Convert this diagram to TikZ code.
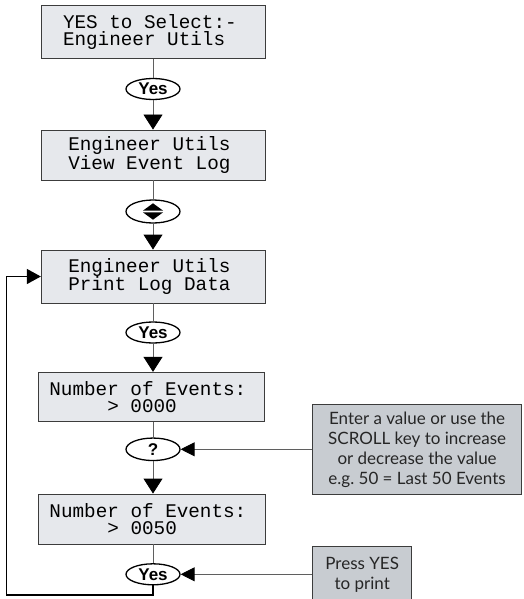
\documentclass[tikz,border=0pt]{standalone}
\usepackage{fontspec}
\setmainfont{Lato}
\newfontfamily\lcdfont{Liberation Mono}
\newfontfamily\ovalfont{Liberation Sans}
\usetikzlibrary{arrows.meta,shapes.geometric}
\definecolor{lcdfill}{RGB}{230,232,236}
\definecolor{notefill}{RGB}{200,204,209}
\definecolor{edgecol}{RGB}{60,60,60}
\definecolor{conncol}{RGB}{95,95,95}
\newcommand\lcdsetup{\lcdfont\fontsize{19.3}{17.5}\selectfont}
\begin{document}
\begin{tikzpicture}[x=1pt,y=-1pt,
  lcd/.style={draw=edgecol, line width=0.9pt, fill=lcdfill, text=black,
    font=\lcdsetup, align=flush left, inner ysep=0pt},
  oval/.style={ellipse, draw=black, line width=1.3pt, fill=white, inner sep=0pt,
    minimum width=54pt, minimum height=21pt,
    font=\ovalfont\bfseries\fontsize{17}{17}\selectfont},
  note/.style={draw=edgecol, line width=0.9pt, fill=notefill, align=center,
    inner sep=0pt, text=black!85, font=\fontsize{17}{20}\selectfont},
  conn/.style={draw=conncol, line width=0.9pt},
  vtip/.style={-{Triangle[length=15pt,width=19pt,color=black]}},
  htip/.style={-{Triangle[length=14pt,width=14pt,color=black]}}
]
\useasboundingbox (0,0) rectangle (523,599);

% LCD boxes
\node[lcd, inner xsep=21.7pt, text width=181pt, minimum height=53.7pt] (B1) at (153.5,31.9)
  {YES to Select:-\\Engineer Utils};
\node[lcd, inner xsep=27pt, text width=170.4pt, minimum height=50pt] (B2) at (153.5,155)
  {Engineer Utils\\View Event Log};
\node[lcd, inner xsep=27pt, text width=170.4pt, minimum height=53pt] (B3) at (153.5,276.5)
  {Engineer Utils\\Print Log Data};
\node[lcd, inner xsep=11pt, text width=204pt, minimum height=49.4pt] (B4) at (151.4,397)
  {Number of Events:\\\phantom{Numbe}> 0000};
\node[lcd, inner xsep=11pt, text width=204.5pt, minimum height=50pt] (B5) at (151.7,519)
  {Number of Events:\\\phantom{Numbe}> 0050};

% ovals
\node[oval] (O1) at (153,89) {Yes};
\node[oval, minimum height=23pt] (O2) at (153,211.5) {};
\node[oval] (O3) at (153,332.5) {Yes};
\node[oval, minimum height=22.5pt] (O4) at (153,449.3) {?};
\node[oval] (O5) at (153,574.3) {Yes};

% scroll symbol
\fill[black] ([shift={(0,-8.2)}]O2.center) -- ([shift={(-10,-0.9)}]O2.center)
  -- ([shift={(10,-0.9)}]O2.center) -- cycle;
\fill[black] ([shift={(0,8.2)}]O2.center) -- ([shift={(-10,0.9)}]O2.center)
  -- ([shift={(10,0.9)}]O2.center) -- cycle;

% notes
\node[note, minimum width=208.8pt, minimum height=90pt] (N1) at (417.1,449.3)
  {Enter a value or use the\\SCROLL key to increase\\or decrease the value\\e.g.\ 50 = Last 50 Events};
\node[note, minimum width=99pt, minimum height=55.5pt] (N2) at (362.2,574.3)
  {Press YES\\to print};

% connectors
\draw[conn] (B1.south -| O1.north) -- (O1.north);
\draw[conn, vtip] (O1.south) -- (B2.north -| O1.south);
\draw[conn] (B2.south -| O2.north) -- (O2.north);
\draw[conn, vtip] (O2.south) -- (B3.north -| O2.south);
\draw[conn] (B3.south -| O3.north) -- (O3.north);
\draw[conn, vtip] (O3.south) -- (B4.north -| O3.south);
\draw[conn] (B4.south -| O4.north) -- (O4.north);
\draw[conn, vtip] (O4.south) -- (B5.north -| O4.south);
\draw[conn] (B5.south -| O5.north) -- (O5.north);
\draw[conn, htip] (N1.west) -- (O4.east);
\draw[conn, htip] (N2.west) -- (O5.east);

% feedback loop
\coordinate (FB) at (6.7,595);
\draw[black, line width=1.2pt, -{Triangle[length=14pt,width=15pt]}]
  (O5.south) |- (FB) |- (B3.west);
\end{tikzpicture}
\end{document}
